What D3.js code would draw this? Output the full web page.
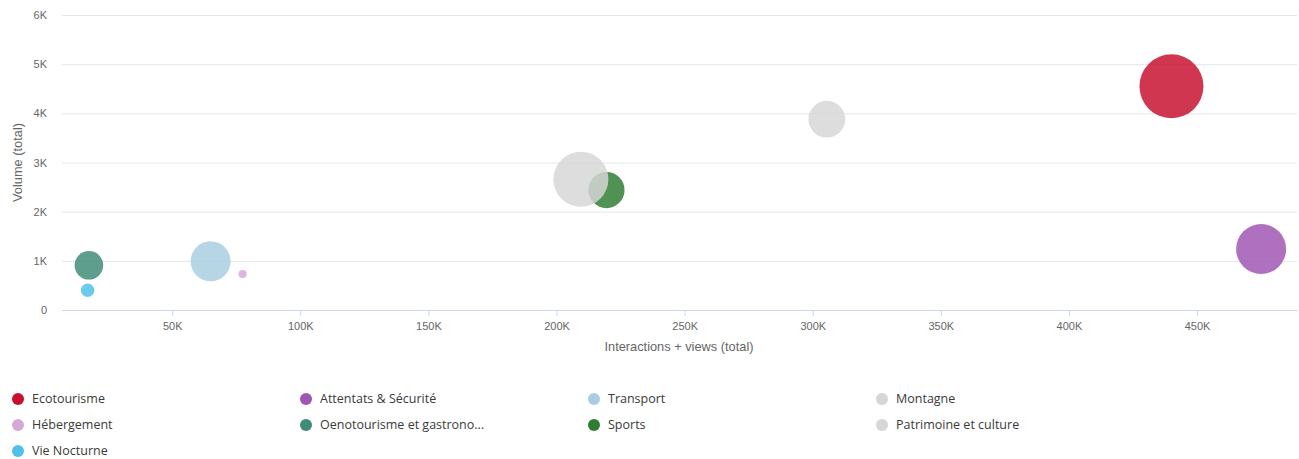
<!DOCTYPE html>
<html>
<head>
<meta charset="utf-8">
<script src="https://cdn.jsdelivr.net/npm/d3@7"></script>
<style>
  html, body { margin: 0; padding: 0; background: #fff; }
  svg { display: block; }
  .tick text { font-family: "Liberation Sans", Arial, sans-serif; font-size: 11px; fill: #666; }
  .axis-title { font-family: "Liberation Sans", Arial, sans-serif; font-size: 12.8px; fill: #666; }
  .legend text { font-family: "Open Sans", sans-serif; font-size: 12.5px; fill: #3a3a3a; }
</style>
</head>
<body>
<svg id="chart" width="1299" height="459"></svg>
<script>
// Topics, in legend order
const categories = ["Ecotourisme", "Attentats & Sécurité", "Transport", "Montagne",
  "Hébergement", "Oenotourisme et gastrono...", "Sports", "Patrimoine et culture", "Vie Nocturne"];
// Interactions + views (total)
const interactions = [440000, 475000, 65000, 305500, 77500, 17500, 219500, 209500, 17000];
// Volume (total)
const volumes = [4550, 1240, 990, 3880, 730, 910, 2440, 2660, 400];
// Bubble size measure
const sizes = [100, 61, 39, 33, 1.6, 20, 32, 74, 4.4];
const colors = ["#c8102e", "#9e55b3", "#a8cde0", "#d6d6d6", "#d6a8d8", "#3e8b76", "#2e7d32", "#d6d6d6", "#4fc1e9"];

const xTicks = [50000, 100000, 150000, 200000, 250000, 300000, 350000, 400000, 450000];
const yTicks = [0, 1000, 2000, 3000, 4000, 5000, 6000];

const svg = d3.select("#chart");
const plot = { left: 62, right: 1297, top: 15, bottom: 310 };

const x = d3.scaleLinear().domain([7000, 489000]).range([plot.left, plot.right]);
const y = d3.scaleLinear().domain([0, 6000]).range([plot.bottom, plot.top]);
const r = d3.scaleSqrt().domain([0, 100]).range([0, 32]);
const kfmt = v => v === 0 ? "0" : (v / 1000) + "K";

// Horizontal grid + y labels
const yAxis = svg.append("g").attr("transform", `translate(${plot.left},0)`)
  .call(d3.axisLeft(y).tickValues(yTicks).tickFormat(kfmt)
    .tickSize(-(plot.right - plot.left)).tickPadding(15));
yAxis.select(".domain").remove();
yAxis.selectAll(".tick line").attr("stroke", "#e6e6e6");

// X axis
const xAxis = svg.append("g").attr("transform", `translate(0,${plot.bottom})`)
  .call(d3.axisBottom(x).tickValues(xTicks).tickFormat(kfmt).tickSize(6).tickSizeOuter(0).tickPadding(6));
xAxis.select(".domain").attr("stroke", "#ccd6eb");
xAxis.selectAll(".tick line").attr("stroke", "#ccd6eb");

// Axis titles
svg.append("text").attr("class", "axis-title")
  .attr("x", 679).attr("y", 351)
  .attr("text-anchor", "middle").text("Interactions + views (total)");
svg.append("text").attr("class", "axis-title")
  .attr("transform", `translate(22,${(plot.top + plot.bottom) / 2}) rotate(-90)`)
  .attr("text-anchor", "middle").text("Volume (total)");

// Bubbles
svg.append("g").selectAll("circle")
  .data(categories.map((c, i) => ({ c, x: interactions[i], y: volumes[i], s: sizes[i], col: colors[i] })))
  .join("circle")
  .attr("cx", d => x(d.x))
  .attr("cy", d => y(d.y))
  .attr("r", d => r(d.s))
  .attr("fill", d => d.col)
  .attr("fill-opacity", 0.84);

// Legend
const legendCols = [18, 306, 594, 882];
const legendRows = [399, 425, 451];
const legend = svg.append("g").attr("class", "legend");
categories.forEach((c, i) => {
  const g = legend.append("g")
    .attr("transform", `translate(${legendCols[i % 4]},${legendRows[Math.floor(i / 4)]})`);
  g.append("circle").attr("r", 6).attr("fill", colors[i]);
  g.append("text").attr("x", 14).attr("dy", "0.35em").text(c);
});
</script>
</body>
</html>
